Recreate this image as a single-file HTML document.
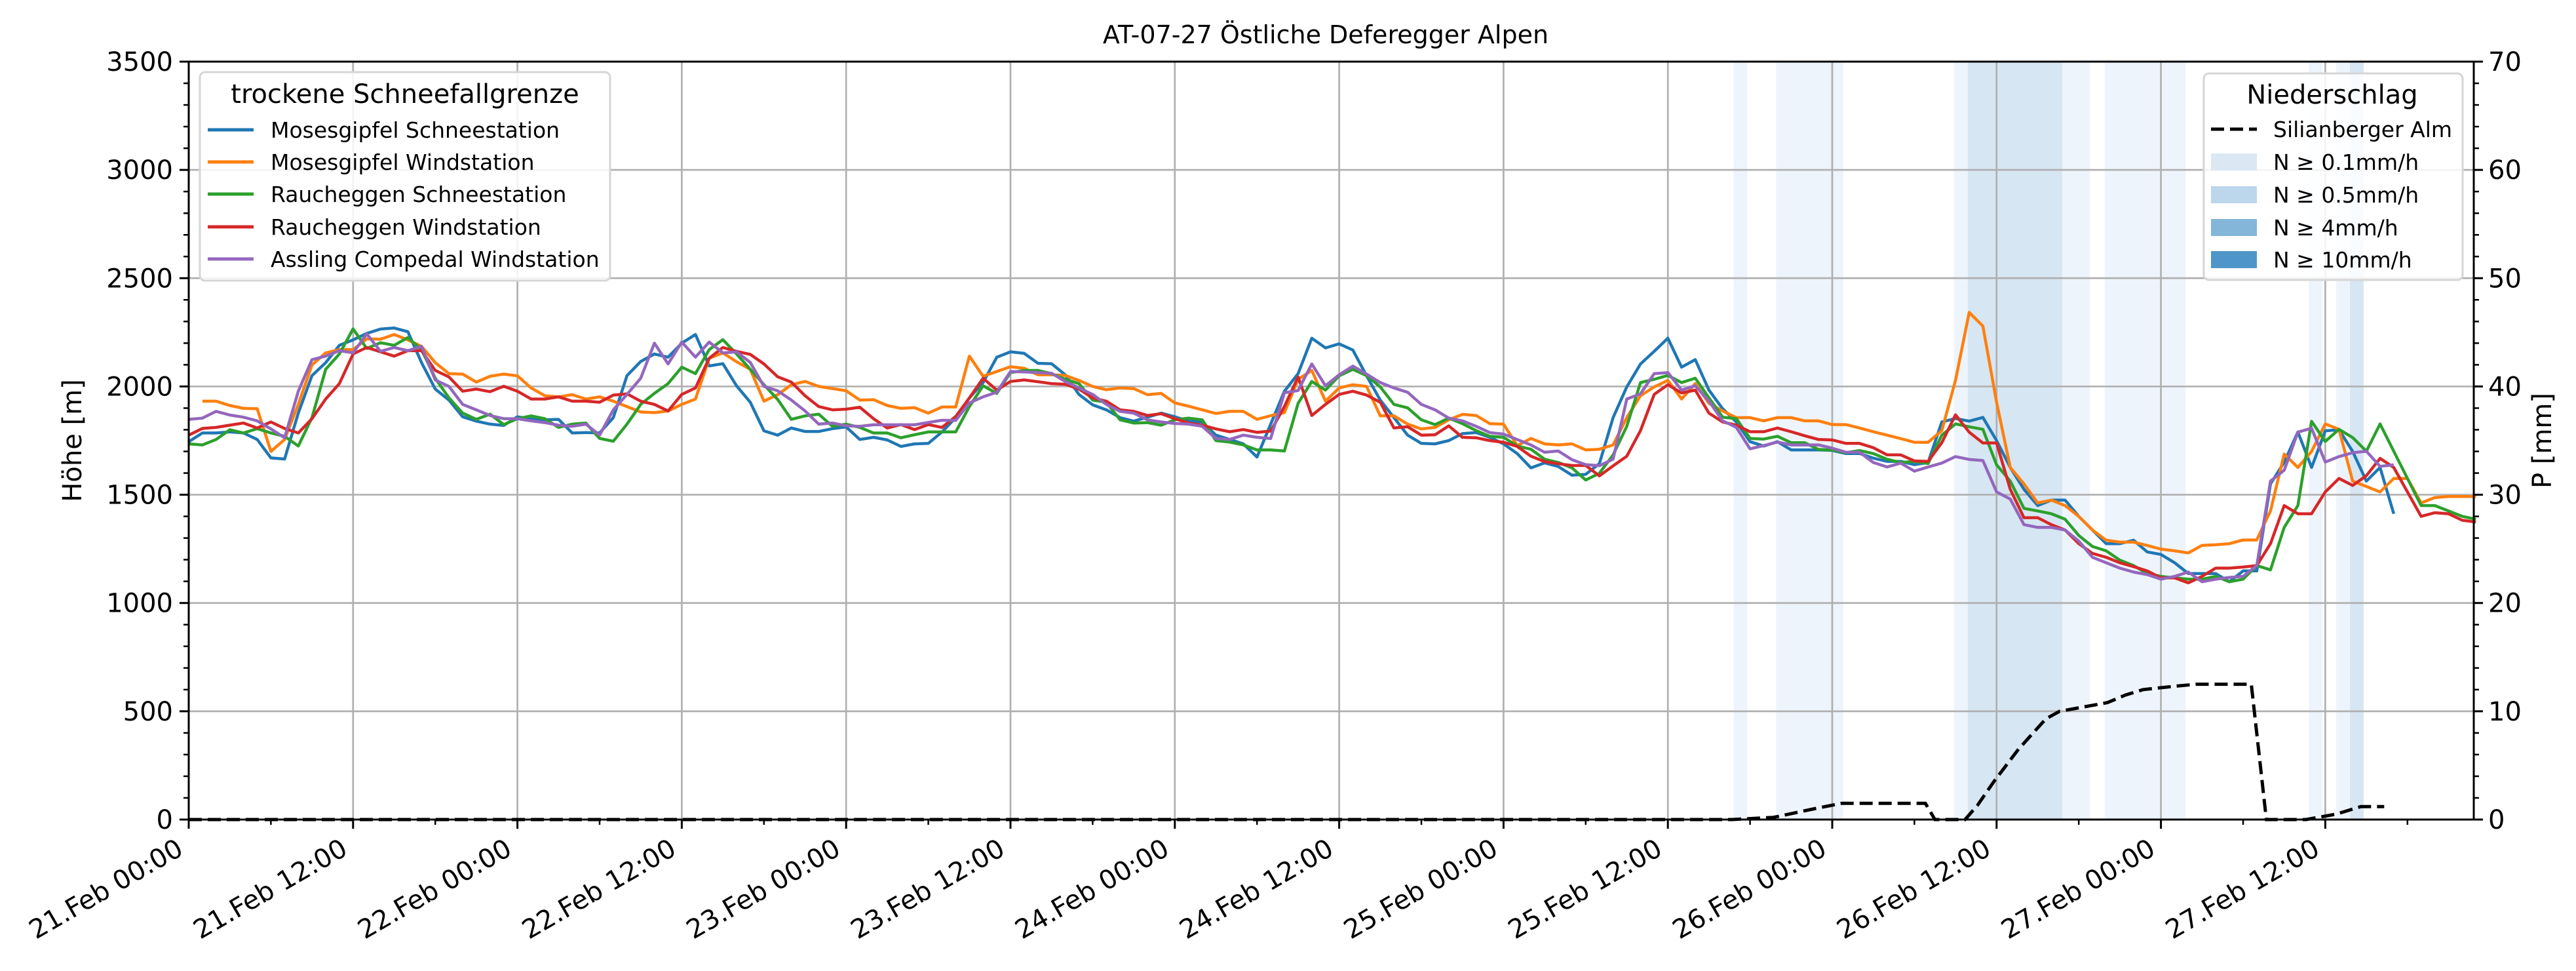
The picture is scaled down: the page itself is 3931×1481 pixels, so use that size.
<!DOCTYPE html>
<html><head><meta charset="utf-8"><style>
html,body{margin:0;padding:0;background:#fff;}
svg{display:block;font-family:"DejaVu Sans","Liberation Sans",sans-serif;}
</style></head><body>
<svg id="chart" width="3931" height="1481" viewBox="0 0 3931 1481">
<rect x="0" y="0" width="3931" height="1481" fill="#fff"/>
<g id="bands"></g>
<g id="grid"></g>
<g id="series"></g>
<g id="axes"></g>
<text x="2023" y="66" font-size="38" text-anchor="middle">AT-07-27 Östliche Deferegger Alpen</text>
<text transform="translate(124,672) rotate(-90)" font-size="40" text-anchor="middle">Höhe [m]</text>
<text transform="translate(3893,672) rotate(-90)" font-size="40" text-anchor="middle">P [mm]</text>

<g>
<rect x="305" y="110" width="626" height="318" rx="8" fill="#fff" fill-opacity="0.85" stroke="#d6d6d6" stroke-width="3"/>
<text x="618" y="157" font-size="40" text-anchor="middle">trockene Schneefallgrenze</text>
<g font-size="33">
<line x1="317" y1="198" x2="387" y2="198" stroke="#1f77b4" stroke-width="5"/>
<text x="413" y="210">Mosesgipfel Schneestation</text>
<line x1="317" y1="247" x2="387" y2="247" stroke="#ff7f0e" stroke-width="5"/>
<text x="413" y="259">Mosesgipfel Windstation</text>
<line x1="317" y1="296" x2="387" y2="296" stroke="#2ca02c" stroke-width="5"/>
<text x="413" y="308">Raucheggen Schneestation</text>
<line x1="317" y1="346" x2="387" y2="346" stroke="#d62728" stroke-width="5"/>
<text x="413" y="358">Raucheggen Windstation</text>
<line x1="317" y1="395" x2="387" y2="395" stroke="#9467bd" stroke-width="5"/>
<text x="413" y="407">Assling Compedal Windstation</text>
</g></g>

<g>
<rect x="3363" y="112" width="395" height="315" rx="8" fill="#fff" fill-opacity="0.85" stroke="#d6d6d6" stroke-width="3"/>
<text x="3559" y="158" font-size="40" text-anchor="middle">Niederschlag</text>
<g font-size="33">
<line x1="3374" y1="197" x2="3444" y2="197" stroke="#000" stroke-width="5" stroke-dasharray="20 9"/>
<text x="3469" y="209">Silianberger Alm</text>
<rect x="3374" y="234" width="70" height="26" fill="#dbe8f4"/>
<text x="3469" y="259">N ≥ 0.1mm/h</text>
<rect x="3374" y="284" width="70" height="26" fill="#bcd6ec"/>
<text x="3469" y="309">N ≥ 0.5mm/h</text>
<rect x="3374" y="334" width="70" height="26" fill="#84b6d9"/>
<text x="3469" y="359">N ≥ 4mm/h</text>
<rect x="3374" y="383" width="70" height="26" fill="#4e96c9"/>
<text x="3469" y="408">N ≥ 10mm/h</text>
</g></g>
</svg>
<script>
// ---- data ----
const xTickLabels = ["21.Feb 00:00","21.Feb 12:00","22.Feb 00:00","22.Feb 12:00","23.Feb 00:00","23.Feb 12:00","24.Feb 00:00","24.Feb 12:00","25.Feb 00:00","25.Feb 12:00","26.Feb 00:00","26.Feb 12:00","27.Feb 00:00","27.Feb 12:00"];
const yLeftTicks = [0,500,1000,1500,2000,2500,3000,3500];
const yRightTicks = [0,10,20,30,40,50,60,70];
const blueStart = 0;
const blueVals = [1745,1785,1785,1790,1785,1755,1670,1665,1877,2050,2110,2190,2215,2245,2265,2270,2253,2110,1988,1937,1860,1840,1826,1820,1860,1850,1846,1848,1785,1787,1785,1856,2050,2115,2150,2135,2200,2240,2095,2105,2003,1927,1795,1775,1808,1792,1792,1805,1813,1755,1765,1753,1723,1735,1737,1790,1856,1947,2018,2135,2160,2153,2107,2105,2054,1963,1915,1892,1856,1840,1858,1877,1860,1840,1836,1775,1755,1735,1674,1826,1978,2059,2223,2178,2197,2168,2049,1937,1856,1775,1737,1735,1750,1782,1787,1765,1735,1690,1624,1647,1630,1590,1594,1644,1856,1998,2104,2162,2223,2089,2124,1983,1897,1836,1745,1725,1745,1707,1707,1707,1705,1690,1690,1669,1654,1654,1639,1649,1836,1852,1840,1857,1750,1626,1525,1450,1475,1475,1400,1337,1274,1274,1290,1236,1224,1186,1136,1136,1136,1098,1148,1148,1550,1650,1790,1626,1795,1800,1700,1563,1626,1412];
const orangeStart = 1;
const orangeVals = [1932,1932,1912,1899,1897,1700,1755,1917,2099,2155,2170,2170,2220,2218,2240,2215,2185,2110,2059,2057,2020,2047,2057,2049,1993,1957,1952,1962,1942,1952,1932,1907,1882,1879,1887,1917,1942,2130,2155,2114,2079,1932,1962,2008,2023,2000,1990,1980,1937,1939,1912,1899,1902,1877,1905,1905,2140,2047,2069,2091,2084,2054,2054,2051,2028,2000,1985,1993,1990,1962,1968,1924,1909,1892,1875,1885,1885,1848,1865,1879,2033,2074,1932,1993,2008,2000,1864,1864,1826,1804,1811,1846,1871,1866,1828,1826,1727,1760,1735,1730,1735,1707,1710,1730,1856,1957,1998,2028,1942,2013,1922,1887,1856,1856,1841,1856,1856,1841,1841,1824,1824,1808,1791,1775,1759,1742,1742,1796,2028,2342,2279,1927,1626,1550,1462,1475,1450,1400,1337,1290,1281,1281,1266,1249,1241,1231,1266,1269,1274,1291,1291,1425,1688,1626,1700,1827,1802,1563,1538,1513,1575,1575,1462,1487,1492,1492,1492];
const greenStart = 0;
const greenVals = [1735,1730,1755,1800,1785,1805,1785,1770,1725,1856,2079,2150,2266,2175,2202,2190,2226,2170,2038,1947,1877,1848,1872,1824,1851,1864,1851,1811,1826,1831,1760,1747,1826,1917,1968,2013,2089,2059,2170,2216,2150,2079,2008,1940,1848,1864,1872,1816,1826,1811,1785,1785,1763,1777,1790,1790,1790,1907,2003,1968,2064,2074,2074,2059,2033,2013,1937,1927,1846,1831,1833,1821,1846,1854,1846,1750,1743,1730,1707,1707,1702,1922,2023,1983,2049,2079,2050,1998,1917,1901,1846,1824,1854,1828,1796,1770,1765,1725,1710,1664,1649,1624,1568,1599,1684,1816,2018,2033,2051,2018,2038,1947,1858,1851,1760,1757,1770,1740,1740,1709,1707,1694,1704,1690,1664,1649,1654,1644,1775,1827,1814,1802,1638,1563,1437,1425,1412,1387,1312,1261,1241,1198,1173,1136,1123,1116,1110,1110,1123,1098,1110,1173,1153,1349,1450,1839,1746,1802,1764,1701,1827,1701,1575,1450,1450,1425,1400,1387];
const redStart = 0;
const redVals = [1775,1806,1811,1821,1831,1808,1836,1806,1785,1851,1942,2013,2150,2180,2160,2140,2165,2165,2074,2044,1978,1988,1976,2001,1978,1942,1942,1952,1932,1932,1927,1960,1966,1932,1917,1887,1963,1993,2130,2180,2162,2148,2104,2045,2020,1957,1907,1892,1895,1904,1851,1808,1824,1801,1824,1811,1861,1947,2038,1983,2023,2030,2022,2013,2010,1988,1947,1932,1892,1885,1866,1874,1851,1831,1821,1804,1791,1801,1788,1794,1907,2044,1866,1917,1963,1978,1960,1927,1808,1814,1775,1777,1818,1765,1763,1750,1742,1723,1678,1653,1643,1635,1635,1587,1633,1678,1796,1963,2008,1970,1983,1877,1836,1821,1791,1791,1808,1791,1772,1755,1753,1737,1737,1717,1684,1684,1656,1654,1740,1869,1789,1739,1739,1525,1394,1394,1362,1337,1274,1229,1211,1186,1168,1148,1116,1116,1093,1123,1161,1161,1166,1173,1274,1450,1412,1412,1513,1575,1543,1588,1668,1626,1513,1400,1417,1412,1382,1374];
const purpleStart = 0;
const purpleVals = [1848,1854,1885,1868,1858,1841,1804,1763,1978,2124,2140,2165,2155,2243,2162,2180,2165,2185,2030,2000,1917,1892,1866,1851,1851,1841,1833,1821,1816,1826,1775,1892,1963,2038,2200,2104,2205,2135,2205,2155,2160,2111,2000,1980,1937,1887,1826,1831,1818,1816,1823,1823,1823,1823,1834,1844,1843,1924,1952,1973,2069,2067,2064,2061,2023,1993,1963,1917,1885,1877,1846,1836,1829,1826,1816,1760,1755,1775,1765,1760,1971,1981,2104,2003,2054,2094,2057,2018,1993,1973,1917,1892,1854,1841,1816,1787,1780,1755,1730,1696,1702,1662,1639,1634,1664,1942,1966,2059,2064,1983,2003,1932,1841,1811,1712,1727,1743,1730,1730,1730,1715,1696,1696,1649,1628,1646,1609,1628,1646,1676,1663,1658,1513,1480,1362,1349,1349,1337,1286,1211,1186,1161,1143,1131,1110,1123,1143,1098,1110,1118,1123,1173,1563,1613,1789,1807,1651,1676,1694,1701,1631,1638];
const precipHours = [0,112.7,115.7,118.7,120.7,126.8,127.5,129.7,130.6,131.8,133.6,135.6,136.6,138.8,140.1,141.4,142.7,144.9,146.6,150.6,151.7,154.6,156.8,158.6,160.3];
const precipVals  = [0,0,0.2,1.0,1.5,1.5,0,0,1.3,3.5,6.5,9.3,10,10.5,10.8,11.5,12,12.3,12.5,12.5,0,0,0.5,1.2,1.2];
const bandStart = [112.8,115.9,128.9,129.9,136.8,139.9,154.8,156.8,157.8];
const bandEnd   = [113.8,120.8,129.9,136.8,138.8,145.8,155.8,157.8,158.8];
const bandLevel = [1,1,1,2,1,1,1,1,2];

// ---- axes ----
const X0=288, X1=3775, Y0=94, Y1=1250, HMAX=(X1-X0)/20.9;
const xs=h=>X0+h*(X1-X0)/HMAX;
const yL=v=>Y1-v*(Y1-Y0)/3500;
const yR=p=>Y1-p*(Y1-Y0)/70;
const NS="http://www.w3.org/2000/svg";
function mk(tag,attrs,parent){const e=document.createElementNS(NS,tag);for(const k in attrs)e.setAttribute(k,attrs[k]);parent.appendChild(e);return e;}

const bands=document.getElementById('bands');
bandStart.forEach((s,i)=>{
  const r=mk('rect',{x:xs(s),y:Y0,width:xs(bandEnd[i])-xs(s),height:Y1-Y0,fill:bandLevel[i]===2?'#d7e6f3':'#eef4fb'},bands);
  
  
});

const grid=document.getElementById('grid');
const axes=document.getElementById('axes');
xTickLabels.forEach((lab,i)=>{
  const x=xs(i*12);
  const g=mk('line',{x1:x,x2:x,y1:Y0,y2:Y1,stroke:'#b0b0b0','stroke-width':2.7},grid);
  
  
  mk('line',{x1:x,x2:x,y1:Y1,y2:Y1+14,stroke:'#000','stroke-width':3},axes);
  const t=mk('text',{x:x-6,y:Y1+52,'font-size':40,'text-anchor':'end',transform:`rotate(-30 ${x-6} ${Y1+52})`},axes);
  t.textContent=lab;
  
  
});
for(let h=6;h<HMAX;h+=12){mk('line',{x1:xs(h),x2:xs(h),y1:Y1,y2:Y1+8,stroke:'#000','stroke-width':2.5},axes);}
yLeftTicks.forEach(v=>{
  const y=yL(v);
  const g=mk('line',{x1:X0,x2:X1,y1:y,y2:y,stroke:'#b0b0b0','stroke-width':2.7},grid);
  
  
  mk('line',{x1:X0-14,x2:X0,y1:y,y2:y,stroke:'#000','stroke-width':3},axes);
  const t=mk('text',{x:X0-24,y:y+14,'font-size':40,'text-anchor':'end'},axes);
  t.textContent=v;
  
  
});
for(let v=100;v<3500;v+=100){if(v%500)mk('line',{x1:X0-8,x2:X0,y1:yL(v),y2:yL(v),stroke:'#000','stroke-width':2.5},axes);}
yRightTicks.forEach(p=>{
  const y=yR(p);
  mk('line',{x1:X1,x2:X1+14,y1:y,y2:y,stroke:'#000','stroke-width':3},axes);
  const t=mk('text',{x:X1+22,y:y+14,'font-size':40},axes);
  t.textContent=p;
  
  
});
for(let p=2;p<70;p+=2){if(p%10)mk('line',{x1:X1,x2:X1+8,y1:yR(p),y2:yR(p),stroke:'#000','stroke-width':2.5},axes);}
const frame=mk('rect',{x:X0,y:Y0,width:X1-X0,height:Y1-Y0,fill:'none',stroke:'#000','stroke-width':3},axes);



const series=document.getElementById('series');
function drawLine(start,vals,color,name){
  const pts=vals.map((v,i)=>xs(start+i).toFixed(1)+','+yL(v).toFixed(1)).join(' ');
  const l=mk('polyline',{points:pts,fill:'none',stroke:color,'stroke-width':4.5,'stroke-linejoin':'round'},series);
  
  
}
drawLine(blueStart,blueVals,'#1f77b4','line-mosesgipfel-schnee');
drawLine(orangeStart,orangeVals,'#ff7f0e','line-mosesgipfel-wind');
drawLine(greenStart,greenVals,'#2ca02c','line-raucheggen-schnee');
drawLine(redStart,redVals,'#d62728','line-raucheggen-wind');
drawLine(purpleStart,purpleVals,'#9467bd','line-assling');
const pp=precipHours.map((h,i)=>xs(h).toFixed(1)+','+yR(precipVals[i]).toFixed(1)).join(' ');
const pl=mk('polyline',{points:pp,fill:'none',stroke:'#000','stroke-width':5,'stroke-dasharray':'20 9'},series);


</script>
</body></html>
